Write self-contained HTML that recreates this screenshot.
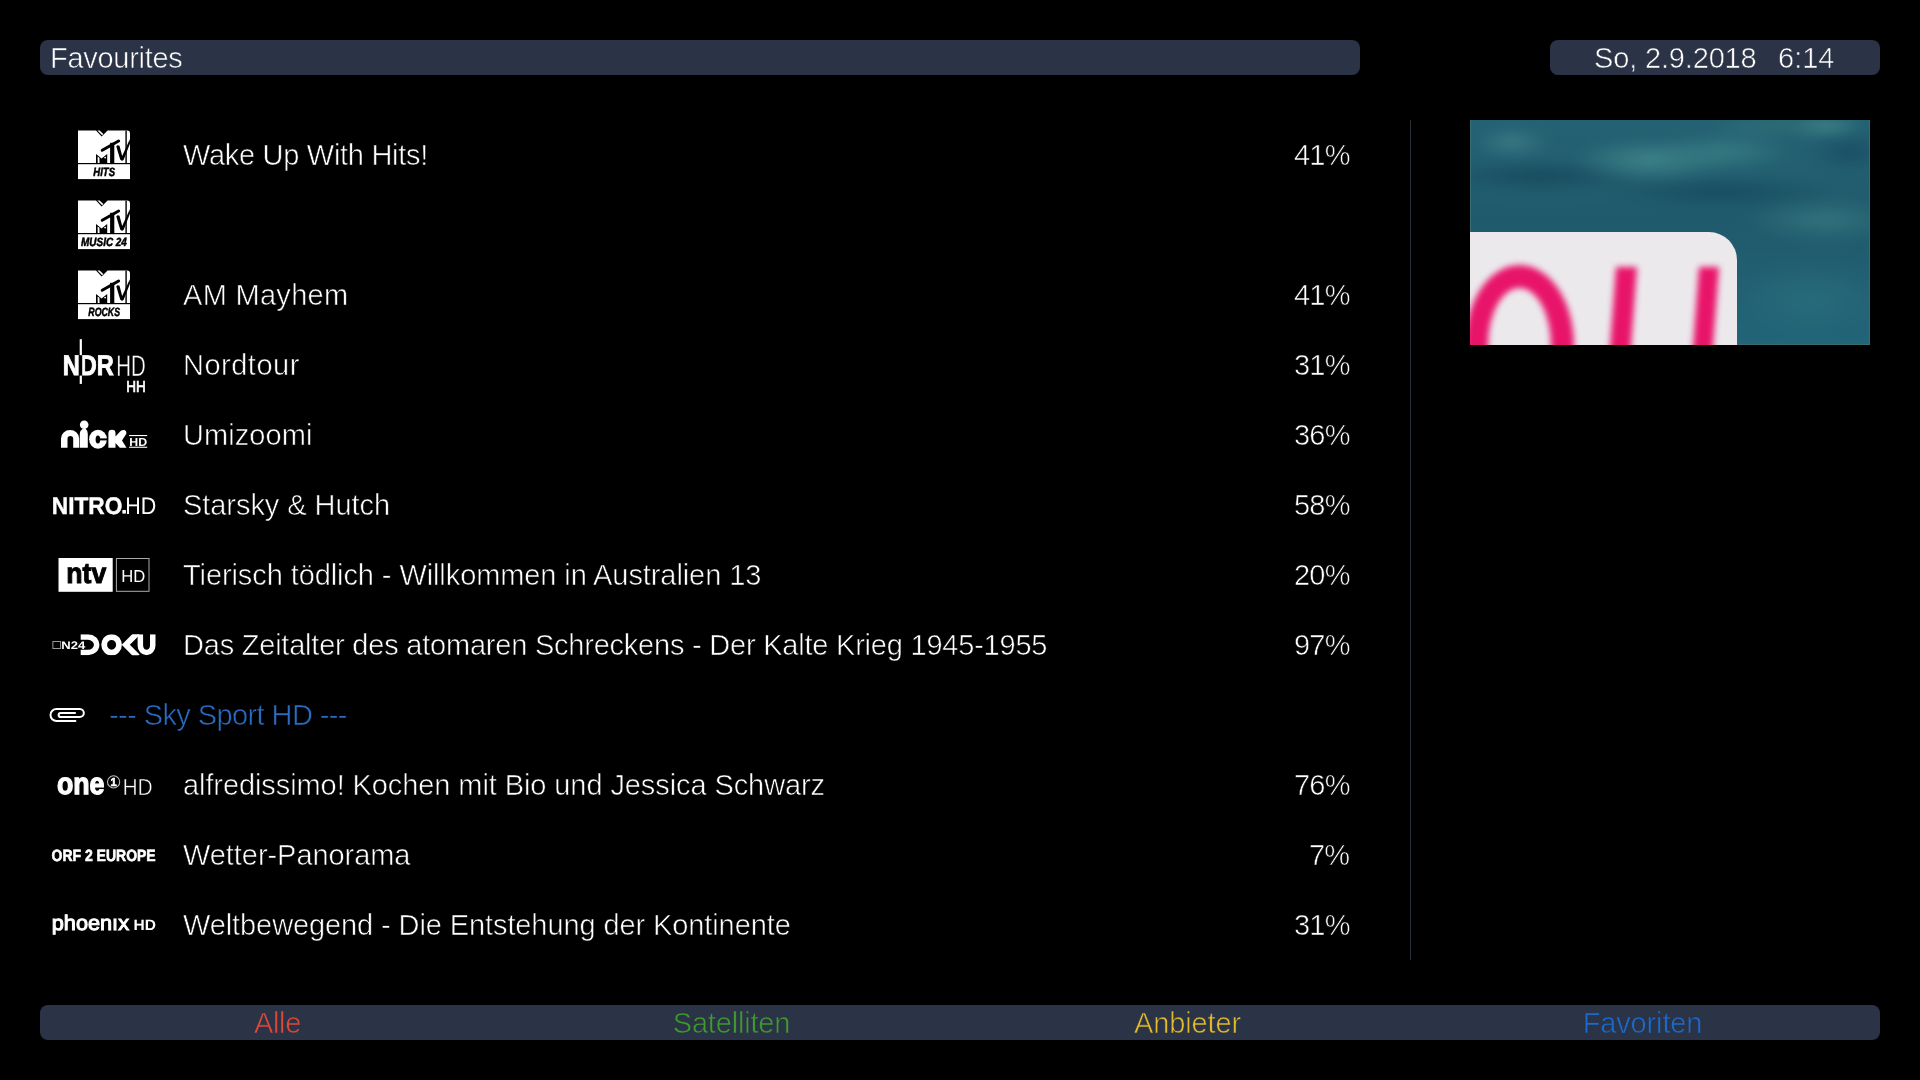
<!DOCTYPE html>
<html><head><meta charset="utf-8">
<style>
html,body{margin:0;padding:0;background:#000;width:1920px;height:1080px;overflow:hidden;}
body{position:relative;font-family:"Liberation Sans",sans-serif;color:#ffffff;}
.bar{position:absolute;background:#2b3346;border-radius:8px;}
.t{position:absolute;white-space:pre;font-size:29px;line-height:32px;-webkit-text-stroke:0.6px #000;will-change:transform;}
.onbar{-webkit-text-stroke-color:#2b3346;}
.pct{position:absolute;white-space:pre;font-size:29px;line-height:32px;-webkit-text-stroke:0.6px #000;will-change:transform;right:571.3px;text-align:right;letter-spacing:-0.8px;margin-right:-0.8px;}
.btn{position:absolute;top:1007px;width:455px;text-align:center;font-size:29px;line-height:32px;-webkit-text-stroke:0.6px #2b3346;will-change:transform;}
</style></head><body>
<div class="bar" style="left:40px;top:40px;width:1320px;height:35px;"></div>
<div class="t onbar" style="left:50px;top:42px;letter-spacing:-0.28px;">Favourites</div>
<div class="bar" style="left:1550px;top:40px;width:330px;height:35px;"></div>
<div class="t onbar" style="left:1594px;top:42px;letter-spacing:-0.16px;">So, 2.9.2018</div>
<div class="t onbar" style="left:1778px;top:42px;">6:14</div>
<div style="position:absolute;left:1410px;top:120px;width:1px;height:840px;background:#2a2e37;"></div>
<div class="t" style="left:183px;top:139px;letter-spacing:-0.3px;">Wake Up With Hits!</div>
<div class="pct" style="top:139px;">41%</div>
<div class="t" style="left:183px;top:279px;letter-spacing:0.3px;">AM Mayhem</div>
<div class="pct" style="top:279px;">41%</div>
<div class="t" style="left:183px;top:349px;letter-spacing:0.5px;">Nordtour</div>
<div class="pct" style="top:349px;">31%</div>
<div class="t" style="left:183px;top:419px;letter-spacing:0.06px;">Umizoomi</div>
<div class="pct" style="top:419px;">36%</div>
<div class="t" style="left:183px;top:489px;letter-spacing:-0.06px;">Starsky &amp; Hutch</div>
<div class="pct" style="top:489px;">58%</div>
<div class="t" style="left:183px;top:559px;letter-spacing:-0.09px;">Tierisch tödlich - Willkommen in Australien 13</div>
<div class="pct" style="top:559px;">20%</div>
<div class="t" style="left:183px;top:629px;letter-spacing:-0.22px;">Das Zeitalter des atomaren Schreckens - Der Kalte Krieg 1945-1955</div>
<div class="pct" style="top:629px;">97%</div>
<div class="t" style="left:108.5px;top:699px;color:#2a6cc4;letter-spacing:-0.59px;">--- Sky Sport HD ---</div>
<div class="t" style="left:183px;top:769px;letter-spacing:-0.09px;">alfredissimo! Kochen mit Bio und Jessica Schwarz</div>
<div class="pct" style="top:769px;">76%</div>
<div class="t" style="left:183px;top:839px;letter-spacing:-0.06px;">Wetter-Panorama</div>
<div class="pct" style="top:839px;">7%</div>
<div class="t" style="left:183px;top:909px;letter-spacing:-0.1px;">Weltbewegend - Die Entstehung der Kontinente</div>
<div class="pct" style="top:909px;">31%</div>
<div style="position:absolute;left:1470px;top:120px;width:400px;height:225px;overflow:hidden;background:#22606f;">
<div style="position:absolute;left:-20px;top:-20px;width:440px;height:265px;filter:blur(6px);
background:
 radial-gradient(ellipse 40px 16px at 62px 42px, rgba(62,125,135,0.9), rgba(62,125,135,0) 100%),
 radial-gradient(ellipse 80px 22px at 200px 60px, rgba(64,134,138,0.95), rgba(64,134,138,0) 100%),
 radial-gradient(ellipse 70px 20px at 275px 52px, rgba(58,128,132,0.85), rgba(58,128,132,0) 100%),
 radial-gradient(ellipse 70px 12px at 320px 26px, rgba(52,118,118,0.7), rgba(52,118,118,0) 100%),
 radial-gradient(ellipse 40px 12px at 375px 26px, rgba(70,140,138,0.9), rgba(70,140,138,0) 100%),
 radial-gradient(ellipse 45px 22px at 400px 52px, rgba(26,76,100,0.9), rgba(26,76,100,0) 100%),
 radial-gradient(ellipse 80px 22px at 375px 120px, rgba(54,120,128,0.85), rgba(54,120,128,0) 100%),
 radial-gradient(ellipse 110px 16px at 90px 76px, rgba(24,72,92,0.95), rgba(24,72,92,0) 100%),
 radial-gradient(ellipse 120px 16px at 270px 92px, rgba(24,74,95,0.95), rgba(24,74,95,0) 100%),
 radial-gradient(ellipse 80px 40px at 360px 200px, rgba(42,112,126,0.7), rgba(42,112,126,0) 100%),
 linear-gradient(180deg, #246274 0%, #225f71 25%, #1f5a6c 45%, #215f72 70%, #22667a 100%);"></div>
<div style="position:absolute;left:0;top:0;width:398px;height:224px;border-left:1px solid #3a6d74;border-right:1px solid #3b6c72;border-bottom:1px solid #3b6c72;"></div>
<div style="position:absolute;left:-10px;top:111.8px;width:276.9px;height:140px;background:#ece9ed;border-top-right-radius:28px;filter:blur(0.7px);"></div>
<div style="position:absolute;left:-4.6px;top:145px;width:63px;height:115px;border:23px solid #e8146a;border-radius:50%;filter:blur(3.2px);"></div>
<div style="position:absolute;left:0;top:0;width:400px;height:225px;filter:blur(3.2px);">
  <div style="position:absolute;top:147.3px;width:21px;height:90px;background:#e8146a;transform:skewX(-4.3deg);transform-origin:0 0;left:145.5px;"></div>
  <div style="position:absolute;top:147.3px;width:20px;height:90px;background:#e8146a;transform:skewX(-4.3deg);transform-origin:0 0;left:228.5px;"></div>
</div>
</div>

<div class="bar" style="left:40px;top:1005px;width:1840px;height:35px;"></div>
<div class="btn" style="left:49.5px;color:#dd4a3a;letter-spacing:-0.34px;">Alle</div>
<div class="btn" style="left:504px;color:#3f9a30;letter-spacing:-0.18px;">Satelliten</div>
<div class="btn" style="left:960px;color:#e0bb2c;letter-spacing:-0.11px;">Anbieter</div>
<div class="btn" style="left:1415px;color:#1c6acb;letter-spacing:-0.15px;">Favoriten</div>
<svg style="position:absolute;left:0;top:0;will-change:transform;" width="200" height="1080" viewBox="0 0 200 1080" font-family="Liberation Sans" text-rendering="geometricPrecision">

<!-- MTV Hits -->
<g transform="translate(78,130)">
  <g>
  <path d="M0,0.6 L18,0.6 L23.6,6.4 L29.6,0.6 L49,0.6 Q52,0.6 52,3.6 L52,33.1 L0,33.1 Z" fill="#fff"/>
  <path d="M19.4,0.6 L21.6,0.6 L25.3,4.0 L24.2,5.2 Z" fill="#fff"/>
  <rect x="47.4" y="0.6" width="1.4" height="32.5" fill="#000"/>
  <line x1="24.2" y1="20.2" x2="40.6" y2="11" stroke="#000" stroke-width="3.0" stroke-linecap="round"/>
  <rect x="32.1" y="12.8" width="4.2" height="20.5" fill="#000"/>
  <path d="M38.3,16.5 Q39.5,14.2 41.5,15.8 L44.2,26 L51.8,9.2 L52,13.5 L45.8,29.5 Q44,31.8 42.2,29.6 Z" fill="#000"/>
  <path d="M18,24 L23.6,28.6 L29.2,24 L29.2,33.3 L18,33.3 Z" fill="#000"/>
  <path d="M19.6,26.6 L21.4,27.8 L21.6,32.9 L19.7,32.9 Z" fill="#fff"/>
  <circle cx="27.1" cy="27.6" r="0.9" fill="#fff"/>
  <rect x="0" y="34.2" width="52" height="14.9" fill="#fff"/>
</g>
  <text x="15.3" y="45.8" font-size="12" font-weight="bold" font-style="italic" fill="#000" stroke="#000" stroke-width="0.5" textLength="21.7" lengthAdjust="spacingAndGlyphs">HITS</text>
</g>
<g transform="translate(78,200)">
  <g>
  <path d="M0,0.6 L18,0.6 L23.6,6.4 L29.6,0.6 L49,0.6 Q52,0.6 52,3.6 L52,33.1 L0,33.1 Z" fill="#fff"/>
  <path d="M19.4,0.6 L21.6,0.6 L25.3,4.0 L24.2,5.2 Z" fill="#fff"/>
  <rect x="47.4" y="0.6" width="1.4" height="32.5" fill="#000"/>
  <line x1="24.2" y1="20.2" x2="40.6" y2="11" stroke="#000" stroke-width="3.0" stroke-linecap="round"/>
  <rect x="32.1" y="12.8" width="4.2" height="20.5" fill="#000"/>
  <path d="M38.3,16.5 Q39.5,14.2 41.5,15.8 L44.2,26 L51.8,9.2 L52,13.5 L45.8,29.5 Q44,31.8 42.2,29.6 Z" fill="#000"/>
  <path d="M18,24 L23.6,28.6 L29.2,24 L29.2,33.3 L18,33.3 Z" fill="#000"/>
  <path d="M19.6,26.6 L21.4,27.8 L21.6,32.9 L19.7,32.9 Z" fill="#fff"/>
  <circle cx="27.1" cy="27.6" r="0.9" fill="#fff"/>
  <rect x="0" y="34.2" width="52" height="14.9" fill="#fff"/>
</g>
  <text x="3.1" y="45.8" font-size="12" font-weight="bold" font-style="italic" fill="#000" stroke="#000" stroke-width="0.5" textLength="45.8" lengthAdjust="spacingAndGlyphs">MUSIC 24</text>
</g>
<g transform="translate(78,270)">
  <g>
  <path d="M0,0.6 L18,0.6 L23.6,6.4 L29.6,0.6 L49,0.6 Q52,0.6 52,3.6 L52,33.1 L0,33.1 Z" fill="#fff"/>
  <path d="M19.4,0.6 L21.6,0.6 L25.3,4.0 L24.2,5.2 Z" fill="#fff"/>
  <rect x="47.4" y="0.6" width="1.4" height="32.5" fill="#000"/>
  <line x1="24.2" y1="20.2" x2="40.6" y2="11" stroke="#000" stroke-width="3.0" stroke-linecap="round"/>
  <rect x="32.1" y="12.8" width="4.2" height="20.5" fill="#000"/>
  <path d="M38.3,16.5 Q39.5,14.2 41.5,15.8 L44.2,26 L51.8,9.2 L52,13.5 L45.8,29.5 Q44,31.8 42.2,29.6 Z" fill="#000"/>
  <path d="M18,24 L23.6,28.6 L29.2,24 L29.2,33.3 L18,33.3 Z" fill="#000"/>
  <path d="M19.6,26.6 L21.4,27.8 L21.6,32.9 L19.7,32.9 Z" fill="#fff"/>
  <circle cx="27.1" cy="27.6" r="0.9" fill="#fff"/>
  <rect x="0" y="34.2" width="52" height="14.9" fill="#fff"/>
</g>
  <text x="10.3" y="45.8" font-size="12" font-weight="bold" font-style="italic" fill="#000" stroke="#000" stroke-width="0.5" textLength="31.7" lengthAdjust="spacingAndGlyphs">ROCKS</text>
</g>
<!-- NDR HD HH -->
<g fill="#fff">
  <text x="62.8" y="375.4" font-size="28.5" font-weight="bold" stroke="#fff" stroke-width="0.9" textLength="51" lengthAdjust="spacingAndGlyphs">NDR</text>
  <rect x="79.4" y="354" width="2.8" height="23" fill="#000"/>
  <rect x="79.7" y="339.2" width="2.2" height="16"/>
  <rect x="79.7" y="375.6" width="2.2" height="8.3"/>
  <text x="116.3" y="375.6" font-size="29.8" stroke="#000" stroke-width="0.4" textLength="29.5" lengthAdjust="spacingAndGlyphs">HD</text>
  <text x="126.2" y="391.6" font-size="16" stroke="#fff" stroke-width="0.7" textLength="19.5" lengthAdjust="spacingAndGlyphs">HH</text>
</g>
<!-- nick HD -->
<g fill="#fff">
  <path d="M61,447.8 L61,438.5 A9.1,8.5 0 0 1 79.2,438.5 L79.2,447.8 L73.2,447.8 L73.2,438.8 A2.85,2.85 0 0 0 67.5,438.8 L67.5,447.8 Z"/>
  <path d="M79.8,447.8 L79.8,434 Q79.8,430.5 82.6,429 L85.8,429 Q87.8,430.5 87.8,434 L87.8,447.8 Z"/>
  <circle cx="84.2" cy="424.7" r="4.3"/>
  <ellipse cx="98" cy="439.25" rx="8.9" ry="9.45"/>
  <ellipse cx="97.9" cy="439.4" rx="2.3" ry="4.0" fill="#000"/>
  <rect x="98" y="438.4" width="10" height="2" fill="#000"/>
  <path d="M108.4,447.8 L108.4,433.2 Q108.4,429.8 112,429.8 Q115.5,429.8 115.5,433.2 L115.5,436.6 L120.6,431 Q122.2,429.6 124.4,430 Q127,431 126.2,434 L122,440.4 L126.5,447.8 L119.8,447.8 L115.5,443 L115.5,447.8 Z"/>
  <rect x="129.1" y="435" width="18.1" height="1.1"/>
  <rect x="129.1" y="446.7" width="18.1" height="1.1"/>
  <text x="129.3" y="445.9" font-size="11.6" font-weight="bold" textLength="17.8" lengthAdjust="spacingAndGlyphs">HD</text>
</g>
<!-- NITRO.HD -->
<g fill="#fff">
  <text x="51.8" y="513.5" font-size="24" font-weight="bold" stroke="#fff" stroke-width="0.4" textLength="70.6" lengthAdjust="spacingAndGlyphs">NITRO</text>
  <rect x="122.4" y="510" width="3.5" height="3.6"/>
  <text x="125.2" y="513.6" font-size="24" textLength="31" lengthAdjust="spacingAndGlyphs">HD</text>
</g>
<!-- ntv HD -->
<rect x="58.5" y="558" width="54.2" height="33.8" fill="#fff"/>
<rect x="116.4" y="558.5" width="32.6" height="32.8" fill="none" stroke="#aaa" stroke-width="1"/>
<text x="66.3" y="582.9" font-size="28.8" font-weight="bold" fill="#000" stroke="#000" stroke-width="1" textLength="40" lengthAdjust="spacingAndGlyphs">ntv</text>
<text x="121.2" y="582.3" font-size="17.3" fill="#fff" textLength="24" lengthAdjust="spacingAndGlyphs">HD</text>
<!-- N24 DOKU -->
<rect x="52.9" y="641.5" width="7.7" height="7" fill="none" stroke="#999" stroke-width="1"/>
<text x="61.2" y="648.9" font-size="11" font-weight="bold" fill="#fff" textLength="24" lengthAdjust="spacingAndGlyphs">N24</text>
<clipPath id="dk"><rect x="70" y="634.3" width="90" height="21"/></clipPath>
<g fill="none" stroke="#fff" stroke-width="5.5" clip-path="url(#dk)">
  <path d="M80.7,637.1 L88,637.1 A8.6,7.65 0 0 1 88,652.5 L80.7,652.5"/>
  <ellipse cx="111.6" cy="644.8" rx="7.4" ry="7.75" stroke-width="5.8"/>
  <path d="M137.5,633 L125.8,644.8 L137.5,656.6" stroke-linejoin="miter" stroke-width="5.8"/>
  <path d="M140.35,634.3 L140.35,645.5 A6.2,7 0 0 0 152.75,645.5 L152.75,634.3"/>
</g>
<!-- one HD -->
<text x="56.9" y="794.3" font-size="30.5" font-weight="bold" fill="#fff" stroke="#fff" stroke-width="1.3" textLength="47.5" lengthAdjust="spacingAndGlyphs">one</text>
<circle cx="113.6" cy="781.9" r="6.1" fill="none" stroke="#bbb" stroke-width="1.1"/>
<text x="110.4" y="786.4" font-size="11.5" font-weight="bold" fill="#fff" stroke="#fff" stroke-width="0.6" textLength="6.2" lengthAdjust="spacingAndGlyphs">1</text>
<text x="122.4" y="794.6" font-size="23.3" fill="#fff" stroke="#000" stroke-width="0.5" textLength="30.3" lengthAdjust="spacingAndGlyphs">HD</text>
<!-- ORF 2 EUROPE -->
<text x="51.5" y="860.8" font-size="16.3" font-weight="bold" fill="#fff" stroke="#fff" stroke-width="0.6" textLength="104.2" lengthAdjust="spacingAndGlyphs">ORF 2 EUROPE</text>
<!-- phoenix HD -->
<text x="51.8" y="929.8" font-size="21" fill="#fff" stroke="#fff" stroke-width="1.0" textLength="77.2" lengthAdjust="spacingAndGlyphs">phoenıx</text>
<text x="133.5" y="930.4" font-size="15" font-weight="bold" fill="#fff" textLength="22.4" lengthAdjust="spacingAndGlyphs">HD</text>
<!-- paperclip -->
<path d="M75.8,712.9 L60.7,712.9 A2.1,2.1 0 0 0 60.7,717.1 L79.8,717.1 A4.05,4.05 0 0 0 79.8,709 L56.5,709 A6,6 0 0 0 56.5,721 L76.2,721" fill="none" stroke="#fff" stroke-width="2"/>
</svg>

</body></html>
